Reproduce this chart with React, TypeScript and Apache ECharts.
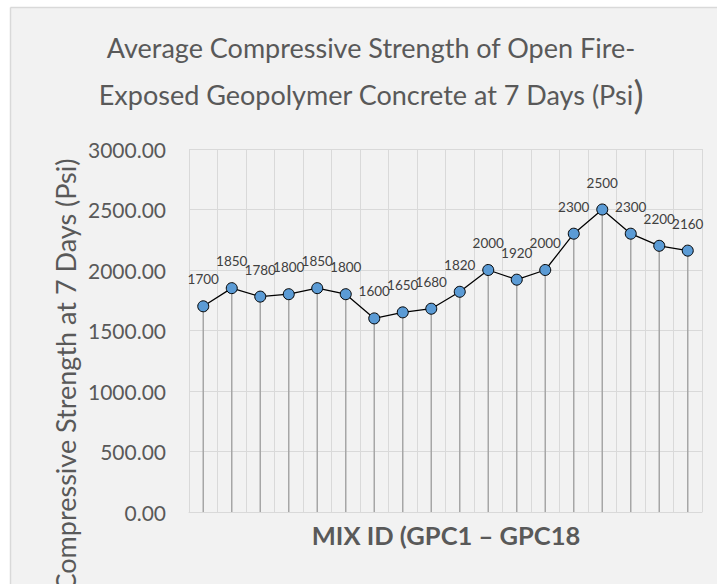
import React, { useEffect, useRef } from "react";
import * as echarts from "echarts";

const categories = [
  "GPC1", "GPC2", "GPC3", "GPC4", "GPC5", "GPC6", "GPC7", "GPC8", "GPC9",
  "GPC10", "GPC11", "GPC12", "GPC13", "GPC14", "GPC15", "GPC16", "GPC17", "GPC18",
];
const strength = [
  1700, 1850, 1780, 1800, 1850, 1800, 1600, 1650, 1680,
  1820, 2000, 1920, 2000, 2300, 2500, 2300, 2200, 2160,
];
const yMin = 0;
const yMax = 3000;
const yStep = 500;
const titleLine1 = "Average Compressive Strength of Open Fire-";
const titleLine2 = "Exposed Geopolymer Concrete at 7 Days (Psi";
const titleClose = ")";
const yAxisTitle = "Compressive Strength at 7 Days (Psi)";
const xAxisTitle = "MIX ID (GPC1 \u2013 GPC18";

const FONT = "Lato, 'Open Sans', sans-serif";

export default function App() {
  const ref = useRef<HTMLDivElement>(null);
  useEffect(() => {
    if (!ref.current) return;
    const chart = echarts.init(ref.current, undefined, { renderer: "svg" });
    chart.setOption({
      animation: false,
      backgroundColor: "#f2f2f2",
      textStyle: { fontFamily: FONT },
      grid: { left: 189, top: 149, right: 15, bottom: 72, containLabel: false },
      xAxis: {
        type: "category",
        data: categories,
        boundaryGap: true,
        axisLabel: { show: false },
        axisTick: { show: false },
        axisLine: { show: true, lineStyle: { color: "#d9d9d9", width: 1 } },
        splitLine: { show: true, interval: 0, lineStyle: { color: "#d9d9d9", width: 1 } },
      },
      yAxis: {
        type: "value",
        min: yMin,
        max: yMax,
        interval: yStep,
        axisLine: { show: false },
        axisTick: { show: false },
        axisLabel: {
          formatter: (v: number) => v.toFixed(2),
          color: "#595959",
          fontSize: 21,
          fontFamily: FONT,
          margin: 23,
        },
        splitLine: { show: true, lineStyle: { color: "#d9d9d9", width: 1 } },
      },
      series: [
        {
          type: "bar",
          data: strength,
          barWidth: 1.5,
          itemStyle: { color: "#a6a6a6" },
          silent: true,
          z: 1,
        },
        {
          type: "line",
          data: strength,
          symbol: "circle",
          symbolSize: 11,
          lineStyle: { color: "#000000", width: 1.25 },
          itemStyle: { color: "#5b9bd5", borderColor: "#000000", borderWidth: 1 },
          label: {
            show: true,
            position: "top",
            distance: 14,
            color: "#404040",
            fontSize: 13.5,
            fontFamily: FONT,
          },
          z: 3,
        },
      ],
      graphic: {
        elements: [
          { type: "rect", shape: { x: 0, y: 0, width: 717, height: 7 }, style: { fill: "#ffffff" }, silent: true },
          { type: "rect", shape: { x: 0, y: 0, width: 10, height: 584 }, style: { fill: "#ffffff" }, silent: true },
          { type: "line", shape: { x1: 10.5, y1: 7.5, x2: 717, y2: 7.5 }, style: { stroke: "#d9d9d9", lineWidth: 1.5 }, silent: true },
          { type: "line", shape: { x1: 10.5, y1: 7.5, x2: 10.5, y2: 584 }, style: { stroke: "#d9d9d9", lineWidth: 1.5 }, silent: true },
          {
            type: "text", x: 371, y: 47,
            style: { text: titleLine1, fontSize: 27, fontFamily: FONT, fill: "#595959", align: "center", verticalAlign: "middle" },
          },
          {
            type: "text", x: 371, y: 94,
            style: {
              text: "{a|" + titleLine2 + "}{b|" + titleClose + "}",
              fontFamily: FONT, align: "center", verticalAlign: "middle",
              rich: {
                a: { fontSize: 27, fontFamily: FONT, fill: "#595959", color: "#595959" },
                b: { fontSize: 38, fontFamily: FONT, fill: "#595959", color: "#595959" },
              },
            },
          },
          {
            type: "text", x: 65, y: 375, rotation: Math.PI / 2,
            style: { text: yAxisTitle, fontSize: 27, fontFamily: FONT, fill: "#595959", align: "center", verticalAlign: "middle" },
          },
          {
            type: "text", x: 446, y: 535,
            style: { text: xAxisTitle, fontSize: 25.5, fontWeight: "bold", fontFamily: FONT, fill: "#595959", align: "center", verticalAlign: "middle" },
          },
        ],
      },
    });
    return () => chart.dispose();
  }, []);
  return (
    <div
      ref={ref}
      style={{ position: "fixed", left: 0, top: 0, width: 717, height: 584 }}
    />
  );
}
